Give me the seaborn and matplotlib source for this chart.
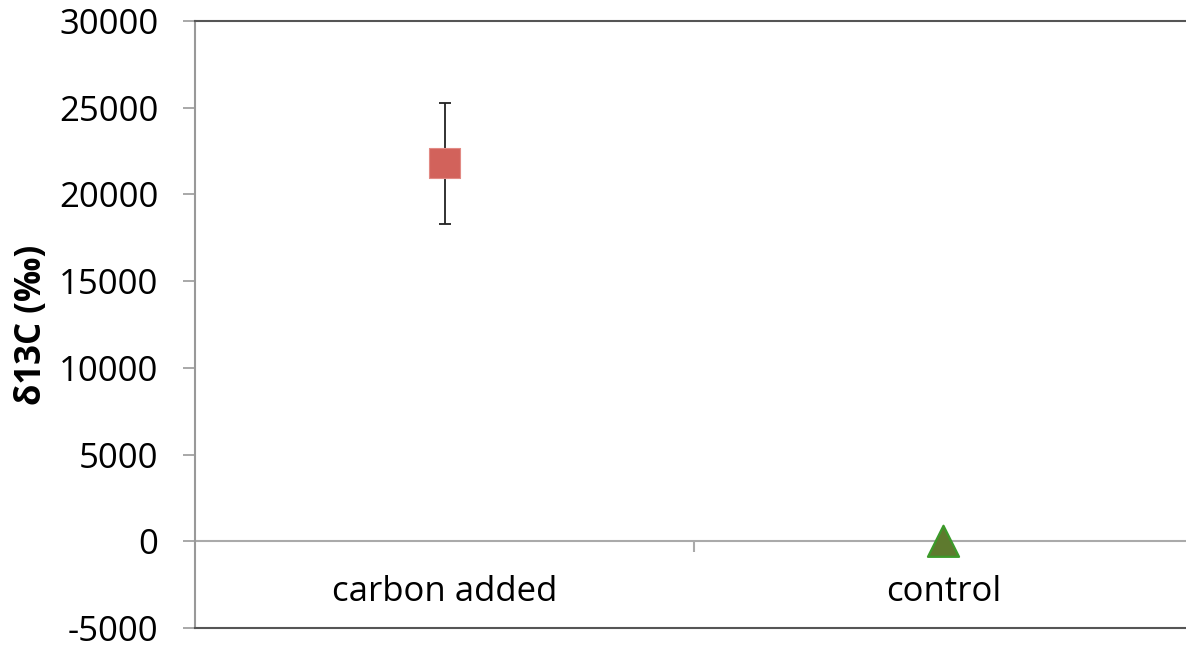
import matplotlib
matplotlib.use("Agg")
import matplotlib.pyplot as plt
import seaborn as sns
import pandas as pd

categories = ["carbon added", "control"]
values = [21800, 0]
errors = [3500, 0]
y_ticks = [-5000, 0, 5000, 10000, 15000, 20000, 25000, 30000]

sns.set_style("white")
plt.rcParams["font.family"] = ["Open Sans", "DejaVu Sans"]
plt.rcParams["text.color"] = "black"
plt.rcParams["xtick.labelcolor"] = "black"
plt.rcParams["ytick.labelcolor"] = "black"
plt.rcParams["axes.labelcolor"] = "black"

fig = plt.figure(figsize=(11.86, 6.56), dpi=100)
ax = fig.add_axes([195 / 1186, 1 - 628 / 656, 998 / 1186, (628 - 21) / 656])

df = pd.DataFrame({"cat": categories, "val": values, "err": errors})

ax.errorbar([0], values[:1], yerr=errors[:1], fmt="none", ecolor="#222222",
            elinewidth=1.3, capsize=4.5, capthick=1.3, zorder=2)
sns.scatterplot(data=df, x="cat", y="val", hue="cat", style="cat",
                markers={"carbon added": "s", "control": "^"},
                palette={"carbon added": "#D2625B", "control": "#5E7A2E"},
                legend=False, ax=ax, zorder=3)
coll = ax.collections[-1]
coll.set_sizes([467, 500])
coll.set_edgecolors(["#E28A84", "#3C9A2A"])
coll.set_linewidths([0.8, 1.6])

ax.set_xlim(-0.5, 1.5)
ax.set_ylim(-5000, 30000)
ax.set_yticks(y_ticks)
ax.set_yticklabels([str(t) for t in y_ticks], fontsize=25)
ax.tick_params(axis="y", which="major", direction="out", length=8.5,
               color="#999999", width=1.2, pad=18, left=True, labelcolor="black")
ax.set_xticks([])
ax.set_xlabel("")
ax.set_ylabel("δ13C (‰)", fontsize=25, fontweight="bold", color="black")
ax.yaxis.set_label_coords(-0.145, 0.5)

ax.axhline(0, color="#aaaaaa", lw=1.5, zorder=1)

for side in ["top", "bottom"]:
    ax.spines[side].set_color("#555555")
    ax.spines[side].set_linewidth(1.5)
ax.spines["left"].set_color("#999999")
ax.spines["left"].set_linewidth(1.5)
ax.spines["right"].set_visible(False)

sec = ax.secondary_xaxis(location=(0 - (-5000)) / 35000)
sec.spines["bottom"].set_visible(False)
sec.set_xticks([0, 1])
sec.set_xticklabels(categories, fontsize=25, color="black")
sec.set_xticks([0.5], minor=True)
sec.tick_params(axis="x", which="major", length=0, pad=24)
sec.tick_params(axis="x", which="minor", length=8, color="#aaaaaa", width=1.5, direction="out")

fig.savefig("out.png", dpi=100)
